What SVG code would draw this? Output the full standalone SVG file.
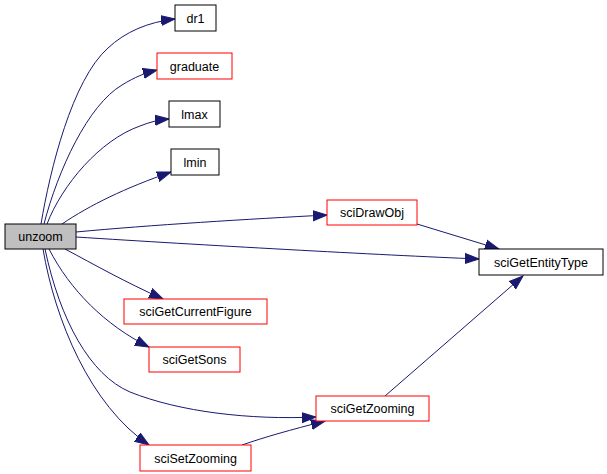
<svg xmlns="http://www.w3.org/2000/svg" width="607" height="474" viewBox="0 0 607 474">
<style>
.n rect{fill:#fff;stroke:#000;stroke-width:1}
.n.r rect{stroke:#f00}
.n.g rect{fill:#bfbfbf}
.n text{font-family:"Liberation Sans",Arial,sans-serif;font-size:12.5px;fill:#000;text-anchor:middle}
#edges path{fill:none;stroke:#191970;stroke-width:1;marker-end:url(#ah)}
</style>
<defs>
<marker id="ah" markerUnits="userSpaceOnUse" markerWidth="16" markerHeight="12" refX="14" refY="5" orient="auto" viewBox="0 0 16 10">
<path d="M0,0 L14,5 L0,10 Z" fill="#191970" stroke="#191970"/>
</marker>
</defs>
<rect width="607" height="474" fill="#fff"/>
<g id="edges">
<path d="M41,224 C50,170 72,80 108,48 C125,32 148,22 175,19"/>
<path d="M44,224 C58,170 88,105 122,85 C135,77 145,73 157,70"/>
<path d="M47,224 C62,185 100,140 140,126 C150,122 158,120 169,119"/>
<path d="M62,224 C90,205 125,188 171,172"/>
<path d="M76,232 C150,225 250,219 327,215"/>
<path d="M76,237 C200,245 380,255 479,259"/>
<path d="M417,224 L499,249"/>
<path d="M385,396 L523,276"/>
<path d="M65,249 C95,265 125,282 163,299"/>
<path d="M49,249 C70,290 105,325 149,347"/>
<path d="M45,249 C60,320 90,375 130,392 C180,412 250,420 316,417"/>
<path d="M43,249 C55,320 90,405 149,445"/>
<path d="M242,445 C265,437 290,430 325,421"/>
</g>
<g id="unzoom" class="n g"><rect x="5" y="224" width="71" height="25"/><text x="40.5" y="241">unzoom</text></g>
<g id="dr1" class="n"><rect x="175" y="5" width="41" height="26"/><text x="195.5" y="22.5">dr1</text></g>
<g id="graduate" class="n r"><rect x="157" y="53" width="75" height="26"/><text x="194.5" y="70.5">graduate</text></g>
<g id="lmax" class="n"><rect x="169" y="101" width="51" height="26"/><text x="194.5" y="118.5">lmax</text></g>
<g id="lmin" class="n"><rect x="171" y="149" width="48" height="26"/><text x="195" y="166.5">lmin</text></g>
<g id="sciDrawObj" class="n r"><rect x="327" y="200" width="90" height="25"/><text x="372" y="217">sciDrawObj</text></g>
<g id="sciGetEntityType" class="n"><rect x="479" y="249" width="124" height="26"/><text x="541" y="266.5">sciGetEntityType</text></g>
<g id="sciGetCurrentFigure" class="n r"><rect x="124" y="299" width="143" height="25"/><text x="195.5" y="316">sciGetCurrentFigure</text></g>
<g id="sciGetSons" class="n r"><rect x="149" y="347" width="91" height="25"/><text x="194.5" y="364">sciGetSons</text></g>
<g id="sciGetZooming" class="n r"><rect x="316" y="396" width="113" height="25"/><text x="372.5" y="413">sciGetZooming</text></g>
<g id="sciSetZooming" class="n r"><rect x="140" y="445" width="111" height="26"/><text x="195.5" y="462.5">sciSetZooming</text></g>
</svg>
